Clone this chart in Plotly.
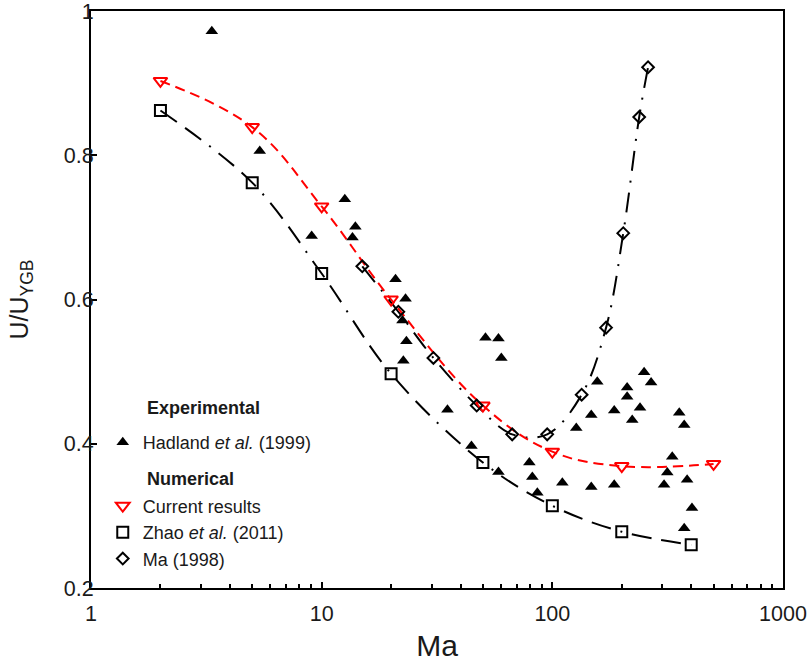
import plotly.graph_objects as go

# ---- data ----
hadland_ma = [3.34, 5.39, 9.05, 12.6, 14.0, 13.6, 20.9, 23.1, 22.4, 23.3, 22.6,
              35.1, 51.3, 58.4, 60.1, 44.6, 58.4, 79.5, 81.9, 86.1, 110.5,
              127, 147.5, 156.6, 147.5, 185.5, 185.5, 211, 211, 222, 240, 250, 268,
              305, 315, 331, 355, 373, 384, 403, 373]
hadland_u = [0.972, 0.806, 0.688, 0.739, 0.701, 0.686, 0.628, 0.601, 0.571, 0.542, 0.515,
             0.447, 0.547, 0.546, 0.519, 0.397, 0.361, 0.374, 0.354, 0.332, 0.346,
             0.422, 0.440, 0.486, 0.340, 0.343, 0.446, 0.478, 0.465, 0.433, 0.450, 0.499, 0.485,
             0.343, 0.360, 0.382, 0.443, 0.426, 0.350, 0.311, 0.283]

current_ma = [2, 5, 10, 20, 50, 100, 200, 500]
current_u = [0.903, 0.839, 0.729, 0.600, 0.453, 0.389, 0.369, 0.372]

zhao_ma = [2, 5, 10, 20, 50, 100, 200, 400]
zhao_u = [0.862, 0.762, 0.636, 0.497, 0.374, 0.314, 0.278, 0.260]

ma98_ma = [15, 21.5, 30.5, 47, 67, 95, 134, 171, 203, 238, 260]
ma98_u = [0.646, 0.583, 0.519, 0.453, 0.413, 0.413, 0.468, 0.561, 0.692, 0.853, 0.922]

x_tickvals = [1, 10, 100, 1000]
x_ticktext = ["1", "10", "100", "1000"]
x_minor = [m * d for d in (1, 10, 100) for m in range(2, 10)]
y_tickvals = [0.2, 0.4, 0.6, 0.8, 1.0]
y_ticktext = ["0.2", "0.4", "0.6", "0.8", "1"]

FONT = "Arial, Liberation Sans, sans-serif"
TXT = "#1a1a1a"

fig = go.Figure()

# curves
fig.add_trace(go.Scatter(x=zhao_ma, y=zhao_u, mode="lines", showlegend=False,
                         line=dict(color="black", width=2, shape="spline", smoothing=1.0,
                                   dash="20px,10px,20px,10px,2px,10px")))
fig.add_trace(go.Scatter(x=ma98_ma, y=ma98_u, mode="lines", showlegend=False,
                         line=dict(color="black", width=2, shape="spline", smoothing=1.0,
                                   dash="20px,10px,2px,10px")))
fig.add_trace(go.Scatter(x=current_ma, y=current_u, mode="lines", showlegend=False,
                         line=dict(color="#ff0000", width=2, shape="spline", smoothing=1.1,
                                   dash="10px,6px")))

# markers
fig.add_trace(go.Scatter(x=hadland_ma, y=hadland_u, mode="markers",
                         name="Hadland <i>et al.</i> (1999)", legendgroup="exp",
                         marker=dict(symbol="triangle-up", size=11, color="black")))
fig.add_trace(go.Scatter(x=current_ma, y=current_u, mode="markers",
                         name="Current results", legendgroup="num",
                         marker=dict(symbol="triangle-down-open", size=12, color="#ff0000",
                                     line=dict(width=2, color="#ff0000"))))
fig.add_trace(go.Scatter(x=zhao_ma, y=zhao_u, mode="markers",
                         name="Zhao <i>et al.</i> (2011)", legendgroup="num",
                         marker=dict(symbol="square-open", size=11, color="black",
                                     line=dict(width=2, color="black"))))
fig.add_trace(go.Scatter(x=ma98_ma, y=ma98_u, mode="markers",
                         name="Ma (1998)", legendgroup="num",
                         marker=dict(symbol="diamond-open", size=9, color="black",
                                     line=dict(width=2, color="black"))))

fig.update_layout(
    width=810, height=663,
    margin=dict(l=91, r=27, t=11, b=75),
    paper_bgcolor="white", plot_bgcolor="white",
    font=dict(family=FONT, color=TXT),
    showlegend=True,
    legend=dict(x=0.017, y=0.284, xanchor="left", yanchor="top",
                font=dict(size=18, family=FONT, color=TXT),
                traceorder="grouped", tracegroupgap=37,
                bgcolor="rgba(0,0,0,0)", borderwidth=0),
    xaxis=dict(type="log", range=[0, 3], tickmode="array", automargin=False,
               tickvals=x_tickvals, ticktext=x_ticktext, ticklabeloverflow="allow",
               ticks="inside", ticklen=6, tickwidth=2, tickcolor="black",
               minor=dict(tickmode="array", tickvals=x_minor, ticks="inside",
                          ticklen=4, tickwidth=1.5, tickcolor="black", showgrid=False),
               showline=True, linecolor="black", linewidth=2, mirror=True,
               showgrid=False, zeroline=False, ticklabelstandoff=5,
               tickfont=dict(size=21.5, family=FONT, color=TXT),
               title=dict(text="Ma", font=dict(size=30, family=FONT, color=TXT),
                          standoff=10)),
    yaxis=dict(range=[0.2, 1.0], tickmode="array", automargin=False,
               tickvals=y_tickvals, ticktext=y_ticktext, ticklabeloverflow="allow",
               ticks="inside", ticklen=6, tickwidth=2, tickcolor="black",
               showline=True, linecolor="black", linewidth=2, mirror=True,
               showgrid=False, zeroline=False, ticklabelstandoff=-9,
               tickfont=dict(size=21.5, family=FONT, color=TXT),
               title=dict(text="U/U<sub>YGB</sub>", font=dict(size=25, family=FONT, color=TXT),
                          standoff=28)),
    annotations=[
        dict(text="<b>Experimental</b>", xref="paper", yref="paper", x=0.078, y=0.312,
             xanchor="left", yanchor="middle", showarrow=False,
             font=dict(size=18, family=FONT, color=TXT)),
        dict(text="<b>Numerical</b>", xref="paper", yref="paper", x=0.078, y=0.189,
             xanchor="left", yanchor="middle", showarrow=False,
             font=dict(size=18, family=FONT, color=TXT)),
    ],
)

fig.write_html("out.html")
